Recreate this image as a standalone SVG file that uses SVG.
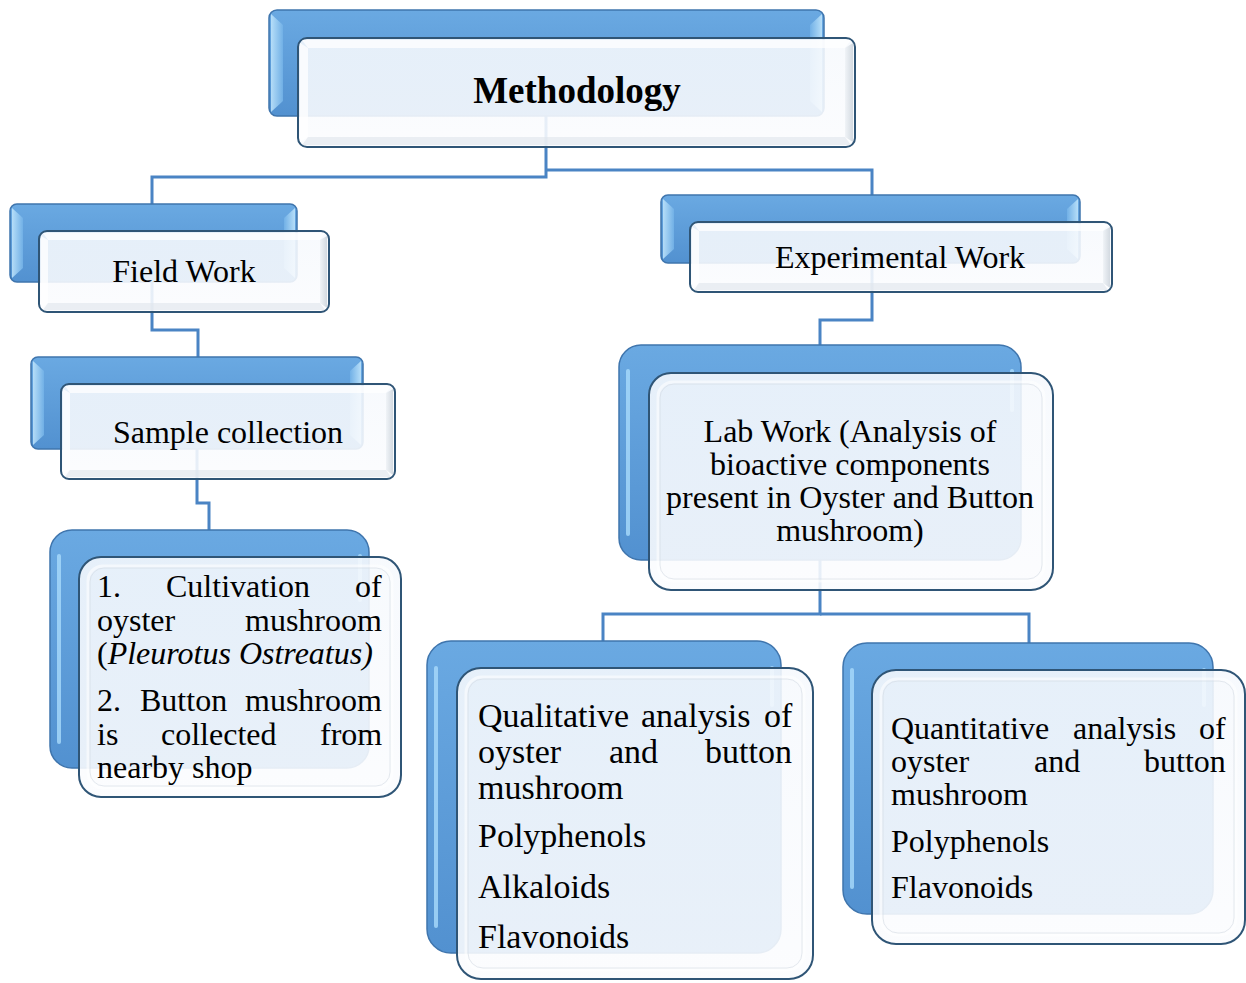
<svg xmlns="http://www.w3.org/2000/svg" width="1246" height="983" viewBox="0 0 1246 983">
<defs>
<linearGradient id="gBack" x1="0" y1="0" x2="0" y2="1">
<stop offset="0" stop-color="#6aa9e2"/>
<stop offset="1" stop-color="#5291d0"/>
</linearGradient>
<linearGradient id="gHiL" x1="0" y1="0" x2="1" y2="0">
<stop offset="0" stop-color="#c4e8fd"/>
<stop offset="1" stop-color="#74b3e8"/>
</linearGradient>
<linearGradient id="gHiR" x1="1" y1="0" x2="0" y2="0">
<stop offset="0" stop-color="#c4e8fd"/>
<stop offset="1" stop-color="#74b3e8"/>
</linearGradient>
<linearGradient id="gRight" x1="1" y1="0" x2="0" y2="0">
<stop offset="0" stop-color="#c9d1d9"/>
<stop offset="1" stop-color="#eef2f6"/>
</linearGradient>
<linearGradient id="gFront" x1="0" y1="0" x2="0" y2="1">
<stop offset="0" stop-color="#f6f9fd"/>
<stop offset="1" stop-color="#fbfcfe"/>
</linearGradient>
</defs>
<style>
.back{fill:url(#gBack);stroke:#3f75ad;stroke-width:1.5}
.front{fill:url(#gFront);fill-opacity:.89;stroke:#2f5576;stroke-width:2}
.hl{fill:url(#gHiL);opacity:.85}
.hr{fill:url(#gHiR);opacity:.85}
.vl{fill:none;stroke:#a9dbfb;stroke-width:4;stroke-linecap:round;opacity:.8}
.bt{fill:#ffffff;opacity:.75}
.br{fill:url(#gRight);opacity:.8}
.bb{fill:#dfe5eb;opacity:.6}
.inr{fill:none;stroke:#ffffff;stroke-width:3;opacity:.55}
.inr2{fill:none;stroke:#d3dbe3;stroke-width:1;opacity:.6}
.conn{fill:none;stroke:#4a84c4;stroke-width:3}
text{font-family:"Liberation Serif","Times New Roman",serif;font-size:32px;fill:#000}
.big{font-size:37px;font-weight:bold}
.q{font-size:34px}
.it{font-style:italic}
</style>

<g id="connectors">
<path class="conn" d="M546 116 V177 H152 V204"/>
<path class="conn" d="M546 170 H872 V195"/>
<path class="conn" d="M152 282 V330 H198 V357"/>
<path class="conn" d="M197 449 V503 H209 V530"/>
<path class="conn" d="M872 263 V320 H820 V345"/>
<path class="conn" d="M820 560 V614 H603 V641"/>
<path class="conn" d="M820 614 H1029 V643"/>
</g>

<g id="methodology">
<rect class="back" x="269" y="10" width="555" height="106" rx="8"/>
<polygon class="hl" points="271,14 283,25 283,101 271,112"/>
<polygon class="hr" points="822,14 810,25 810,101 822,112"/>
<rect class="front" x="298" y="38" width="557" height="109" rx="9"/>
<polygon class="bt" points="302,40 851,40 845,48 308,48"/>
<polygon class="bt" points="300,43 308,48 308,137 300,142"/>
<polygon class="br" points="853,43 853,142 845,137 845,48"/>
<polygon class="bb" points="302,145 851,145 845,137 308,137"/>
<text class="big" x="577" y="103" text-anchor="middle">Methodology</text>
</g>

<g id="field-work">
<rect class="back" x="10" y="204" width="287" height="78" rx="7"/>
<polygon class="hl" points="12,208 23,218 23,268 12,278"/>
<polygon class="hr" points="295,208 284,218 284,268 295,278"/>
<rect class="front" x="39" y="231" width="290" height="81" rx="8"/>
<polygon class="bt" points="43,233 325,233 320,240 48,240"/>
<polygon class="bt" points="41,236 48,240 48,303 41,308"/>
<polygon class="br" points="327,236 327,308 320,303 320,240"/>
<polygon class="bb" points="43,310 325,310 320,303 48,303"/>
<text x="184" y="282" text-anchor="middle">Field Work</text>
</g>

<g id="sample-collection">
<rect class="back" x="31" y="357" width="332" height="92" rx="7"/>
<polygon class="hl" points="33,361 44,371 44,435 33,445"/>
<polygon class="hr" points="361,361 350,371 350,435 361,445"/>
<rect class="front" x="61" y="384" width="334" height="95" rx="8"/>
<polygon class="bt" points="65,386 391,386 386,393 70,393"/>
<polygon class="bt" points="63,389 70,393 70,470 63,475"/>
<polygon class="br" points="393,389 393,475 386,470 386,393"/>
<polygon class="bb" points="65,477 391,477 386,470 70,470"/>
<text x="228" y="443" text-anchor="middle">Sample collection</text>
</g>

<g id="cultivation">
<rect class="back" x="50" y="530" width="319" height="238" rx="22"/>
<line class="vl" x1="59" y1="556" x2="59" y2="742"/>
<line class="vl" x1="360" y1="556" x2="360" y2="600"/>
<rect class="front" x="79" y="557" width="322" height="240" rx="22"/>
<rect class="inr" x="88" y="566" width="304" height="222" rx="15"/>
<rect class="inr2" x="90" y="568" width="300" height="218" rx="14"/>
<text><tspan x="97" y="597">1.</tspan><tspan x="166" y="597">Cultivation</tspan><tspan x="355" y="597">of</tspan><tspan x="97" y="631">oyster</tspan><tspan x="245" y="631">mushroom</tspan><tspan x="97" y="664">(<tspan class="it">Pleurotus Ostreatus)</tspan></tspan><tspan x="97" y="711">2.</tspan><tspan x="140" y="711">Button</tspan><tspan x="245" y="711">mushroom</tspan><tspan x="97" y="745">is</tspan><tspan x="161" y="745">collected</tspan><tspan x="320" y="745">from</tspan><tspan x="97" y="778">nearby shop</tspan></text>
</g>

<g id="experimental-work">
<rect class="back" x="661" y="195" width="419" height="68" rx="7"/>
<polygon class="hl" points="663,199 674,209 674,249 663,259"/>
<polygon class="hr" points="1078,199 1067,209 1067,249 1078,259"/>
<rect class="front" x="690" y="222" width="422" height="70" rx="8"/>
<polygon class="bt" points="694,224 1108,224 1103,231 699,231"/>
<polygon class="bt" points="692,227 699,231 699,283 692,288"/>
<polygon class="br" points="1110,227 1110,288 1103,283 1103,231"/>
<polygon class="bb" points="694,290 1108,290 1103,283 699,283"/>
<text x="900" y="268" text-anchor="middle">Experimental Work</text>
</g>

<g id="lab-work">
<rect class="back" x="619" y="345" width="402" height="215" rx="22"/>
<line class="vl" x1="628" y1="371" x2="628" y2="534"/>
<line class="vl" x1="1012" y1="371" x2="1012" y2="410"/>
<rect class="front" x="649" y="373" width="404" height="217" rx="22"/>
<rect class="inr" x="658" y="382" width="386" height="199" rx="15"/>
<rect class="inr2" x="660" y="384" width="382" height="195" rx="14"/>
<text x="850" y="442" text-anchor="middle">Lab Work (Analysis of</text>
<text x="850" y="475" text-anchor="middle">bioactive components</text>
<text x="850" y="508" text-anchor="middle">present in Oyster and Button</text>
<text x="850" y="541" text-anchor="middle">mushroom)</text>
</g>

<g id="qualitative">
<rect class="back" x="427" y="641" width="354" height="312" rx="24"/>
<line class="vl" x1="436" y1="668" x2="436" y2="926"/>
<line class="vl" x1="772" y1="668" x2="772" y2="705"/>
<rect class="front" x="457" y="668" width="356" height="311" rx="24"/>
<rect class="inr" x="466" y="677" width="338" height="293" rx="16"/>
<rect class="inr2" x="468" y="679" width="334" height="289" rx="15"/>
<text class="q"><tspan x="478" y="727">Qualitative</tspan><tspan x="641" y="727">analysis</tspan><tspan x="764" y="727">of</tspan><tspan x="478" y="763">oyster</tspan><tspan x="609" y="763">and</tspan><tspan x="705" y="763">button</tspan><tspan x="478" y="799">mushroom</tspan><tspan x="478" y="847">Polyphenols</tspan><tspan x="478" y="898">Alkaloids</tspan><tspan x="478" y="948">Flavonoids</tspan></text>
</g>

<g id="quantitative">
<rect class="back" x="843" y="643" width="370" height="271" rx="24"/>
<line class="vl" x1="852" y1="670" x2="852" y2="887"/>
<line class="vl" x1="1204" y1="670" x2="1204" y2="705"/>
<rect class="front" x="872" y="670" width="373" height="274" rx="24"/>
<rect class="inr" x="881" y="679" width="355" height="256" rx="16"/>
<rect class="inr2" x="883" y="681" width="351" height="252" rx="15"/>
<text><tspan x="891" y="739">Quantitative</tspan><tspan x="1073" y="739">analysis</tspan><tspan x="1199" y="739">of</tspan><tspan x="891" y="772">oyster</tspan><tspan x="1034" y="772">and</tspan><tspan x="1144" y="772">button</tspan><tspan x="891" y="805">mushroom</tspan><tspan x="891" y="852">Polyphenols</tspan><tspan x="891" y="898">Flavonoids</tspan></text>
</g>
</svg>
